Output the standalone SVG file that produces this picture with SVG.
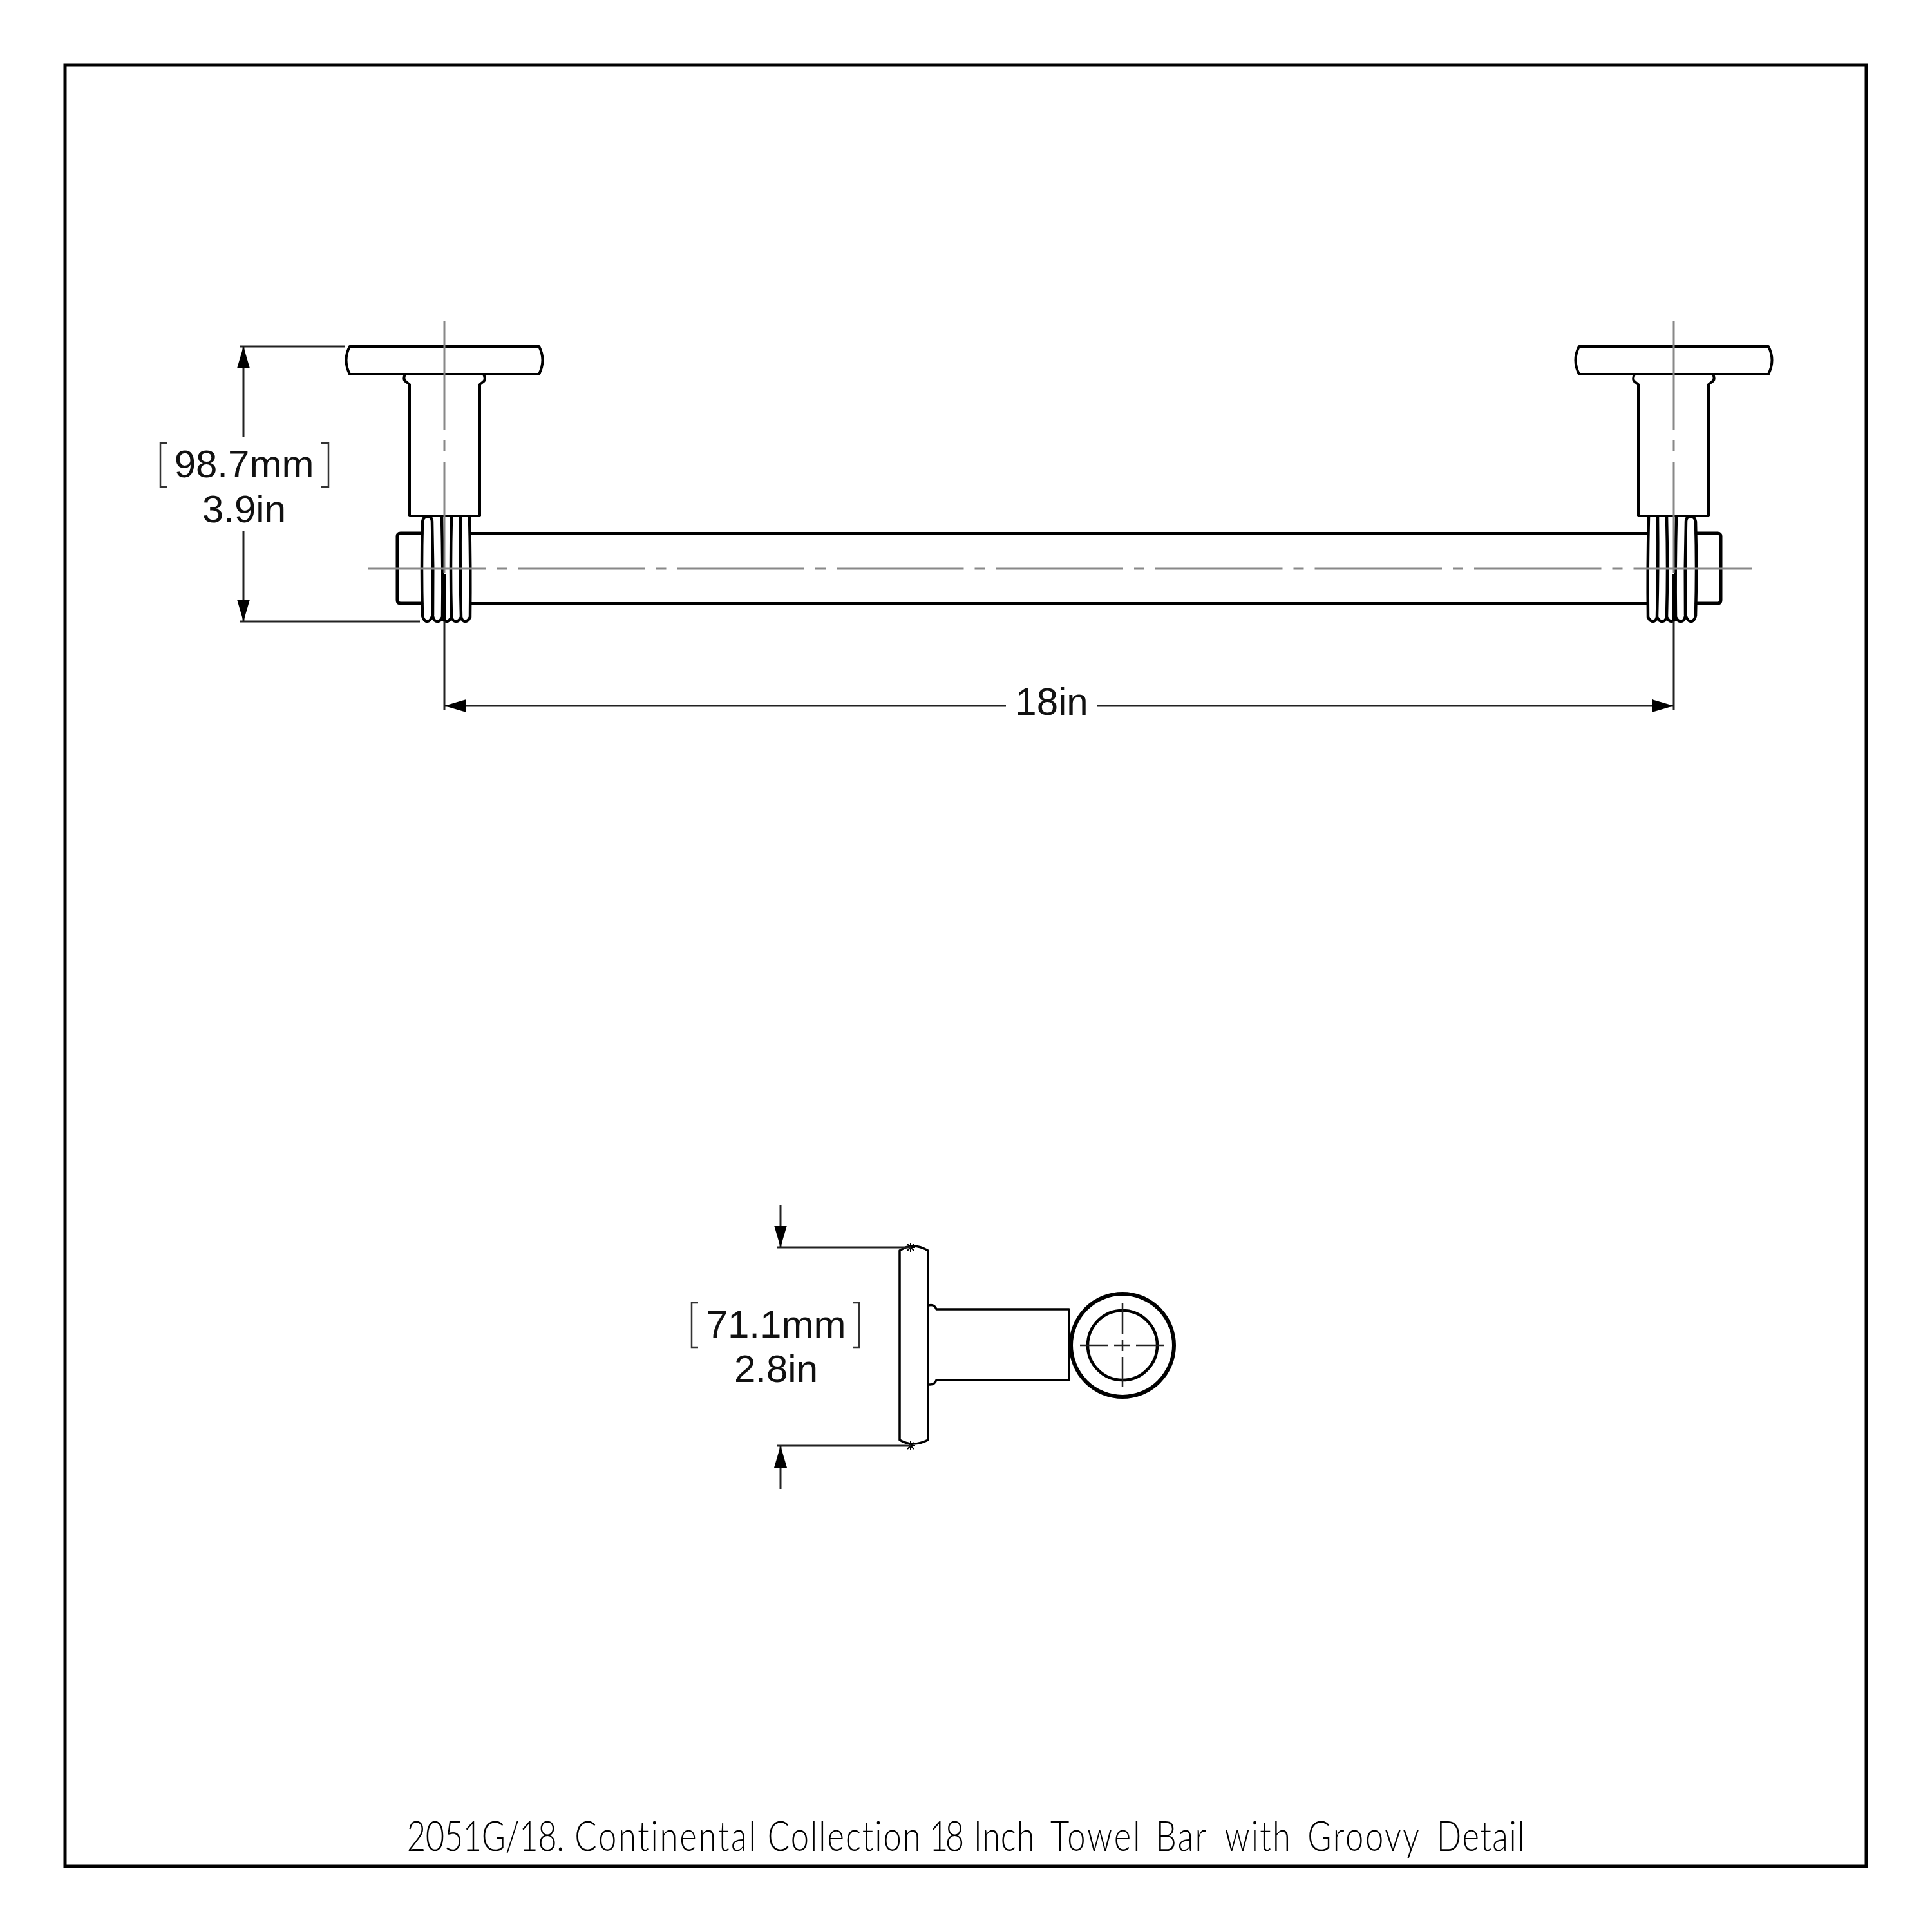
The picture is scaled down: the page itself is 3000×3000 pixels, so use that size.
<svg xmlns="http://www.w3.org/2000/svg" width="3000" height="3000" viewBox="0 0 3000 3000">
<style>
.o{fill:none;stroke:#000;stroke-width:4;stroke-linejoin:round;stroke-linecap:round}
.r{fill:none;stroke:#000;stroke-width:4.5;stroke-linejoin:round;stroke-linecap:round}
.d{fill:none;stroke:#222;stroke-width:3}
.c{fill:none;stroke:#888;stroke-width:3}
.b{fill:none;stroke:#333;stroke-width:2.5}
.t{font-family:"Liberation Sans",Arial,sans-serif;font-size:60px;fill:#111;text-anchor:middle}
.title{font-family:Lato,"Liberation Sans",sans-serif;font-weight:300;font-size:65px;fill:#000;font-variant-ligatures:none}
</style>
<defs>
<marker id="ah" markerUnits="userSpaceOnUse" markerWidth="36" markerHeight="22" refX="34" refY="11" orient="auto"><path d="M0 1L34 11L0 21Z" fill="#000"/></marker>
<g id="mount">
<path class="o" d="M543 538H837Q848 559 837 581H543Q532 559 543 538ZM629 581Q625 590 631 593L636 597V801H745V597L750 593Q755 590 751 581"/>
<path class="o" d="M655 828H622Q617 828 617 833V932Q617 937 622 937H655" style="stroke-width:5"/>
<path class="r" d="M656 810Q657 802 664 802Q671 802 671 810Q673 883 672 955Q668 965 664 965Q658 965 656 956Q654 883 656 810ZM686 802Q688 883 687 958Q684 965 679 965Q674 965 672 957M701 802Q699 883 701 958Q698 965 693 965Q689 965 687 958M715 802Q714 883 716 958Q713 965 708 965Q703 965 701 958M729 802Q731 883 730 958Q727 965 722 965Q718 965 716 958"/>
<path d="M689 892V965" stroke="#000" stroke-width="6" fill="none"/>
</g>
</defs>
<rect id="frame" x="101" y="101" width="2797" height="2797" fill="none" stroke="#000" stroke-width="5"/>
<g id="towel-bar">
<path class="o" d="M730 828H2559M730 937H2559"/>
</g>
<g id="mount-left"><use href="#mount"/></g>
<g id="mount-right"><use href="#mount" transform="matrix(-1 0 0 1 3289 0)"/></g>
<g id="centerlines">
<path class="c" d="M572 883H2720" stroke-dasharray="197.5 17 16 17" stroke-dashoffset="15.5"/>
<path class="c" d="M690 498V667M690 684V700M690 717V890"/>
<path class="c" d="M2599 498V667M2599 684V700M2599 717V890"/>
</g>
<g id="side-view">
<path class="o" style="stroke-width:3.5" d="M1397 2236V1942Q1417 1928 1441 1942V2236Q1417 2248 1397 2236ZM1442 2027Q1451 2025 1454 2033H1660V2143H1454Q1451 2151 1442 2150"/>
<circle class="o" cx="1743" cy="2089" r="80" style="stroke-width:6"/>
<circle class="o" cx="1743" cy="2089" r="54" style="stroke-width:4.5"/>
<path fill="none" stroke="#222" stroke-width="2.5" d="M1677 2089H1720M1730 2089H1754M1764 2089H1808M1743 2023V2072M1743 2080V2098M1743 2107V2154"/>
<path fill="none" stroke="#000" stroke-width="2" d="M1407 1937H1421M1414 1930V1944M1409 1932L1419 1942M1419 1932L1409 1942M1407 2245H1421M1414 2238V2252M1409 2240L1419 2250M1419 2240L1409 2250"/>
</g>
<g id="connectors">
<path class="d" d="M372 538H535M372 965H652M690 965V1103M2599 965V1103M1206 1937H1414M1206 2245H1414"/>
<path class="d" d="M378 679V538" marker-end="url(#ah)"/>
<path class="d" d="M378 824V965" marker-end="url(#ah)"/>
<path class="d" d="M1562 1096H690" marker-end="url(#ah)"/>
<path class="d" d="M1704 1096H2599" marker-end="url(#ah)"/>
<path class="d" d="M1212 1871V1937" marker-end="url(#ah)"/>
<path class="d" d="M1212 2312V2245" marker-end="url(#ah)"/>
</g>
<g id="label-height">
<path class="b" d="M259 688H249V756H259M498 688H510V756H498"/>
<text class="t" x="379" y="741">98.7mm</text>
<text class="t" x="379" y="811">3.9in</text>
</g>
<g id="label-length"><text class="t" x="1633" y="1110">18in</text></g>
<g id="label-depth">
<path class="b" d="M1084 2023H1074V2092H1084M1324 2023H1334V2092H1324"/>
<text class="t" x="1205" y="2077">71.1mm</text>
<text class="t" x="1205" y="2146">2.8in</text>
</g>
<text id="title" class="title" transform="translate(0 2874) scale(0.78 1)"><tspan x="810" letter-spacing="-0.5">2051G/18. </tspan><tspan x="1144" letter-spacing="3.6">Continental </tspan><tspan x="1528" letter-spacing="2.6">Collection </tspan><tspan x="1850" letter-spacing="-6">18 </tspan><tspan x="1938" letter-spacing="1">Inch </tspan><tspan x="2091" letter-spacing="4">Towel </tspan><tspan x="2301" letter-spacing="3">Bar </tspan><tspan x="2438" letter-spacing="3">with </tspan><tspan x="2603" letter-spacing="3.4">Groovy </tspan><tspan x="2860" letter-spacing="2">Detail</tspan></text>
</svg>
